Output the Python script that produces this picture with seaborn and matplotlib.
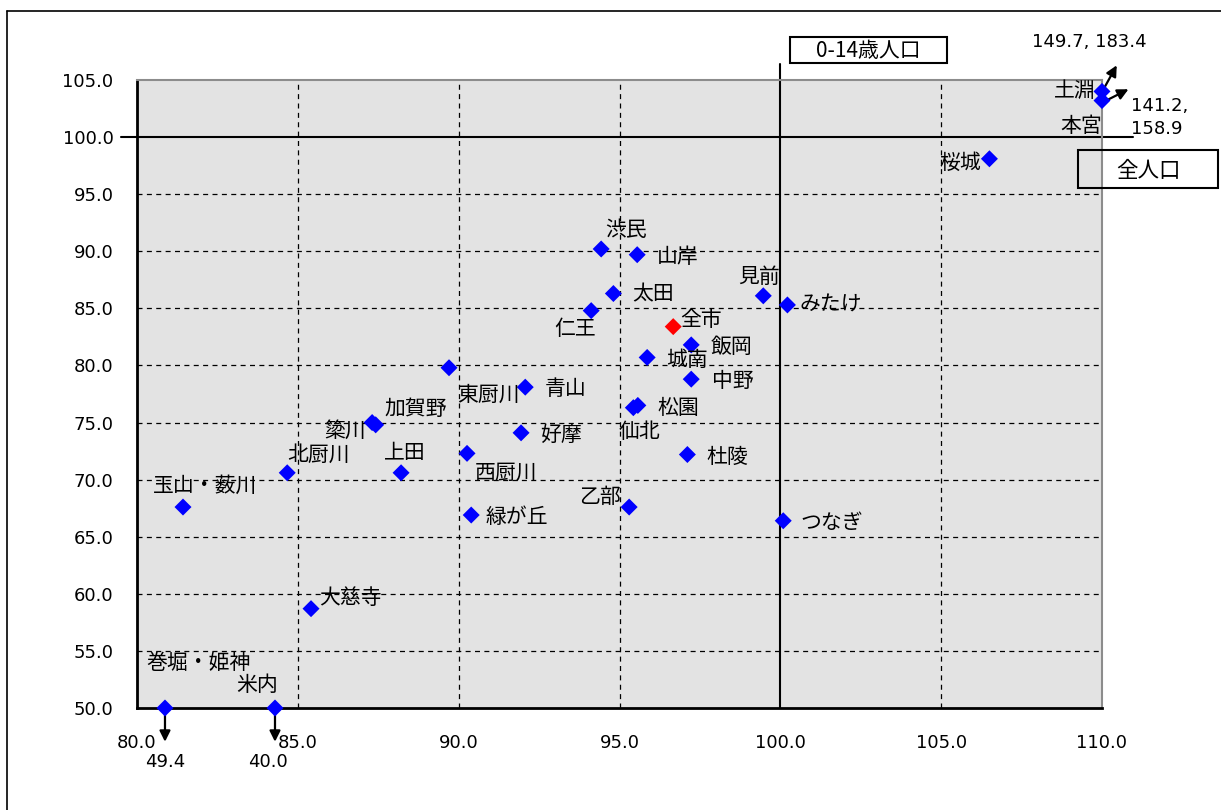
import numpy as np
import pandas as pd
import seaborn as sns
import matplotlib
import matplotlib.pyplot as plt
from matplotlib.patches import Rectangle
from matplotlib.lines import Line2D

matplotlib.use("Agg")

sns.set_style("white")
plt.rcParams["font.family"] = ["Noto Sans CJK JP", "DejaVu Sans"]
plt.rcParams["text.color"] = "black"
plt.rcParams["xtick.color"] = "black"
plt.rcParams["ytick.color"] = "black"

# 地区別の指数 (x: 全人口, y: 0-14歳人口), 表示位置
names = ["巻堀・姫神", "米内", "玉山・薮川", "北厨川", "大慈寺", "上田", "簗川", "加賀野",
         "東厨川", "青山", "好摩", "西厨川", "緑が丘", "乙部", "仙北", "松園", "杜陵",
         "つなぎ", "中野", "城南", "飯岡", "全市", "仁王", "太田", "渋民", "山岸",
         "見前", "みたけ", "桜城", "土淵", "本宮"]
x_vals = [80.87, 84.29, 81.43, 84.67, 85.41, 88.21, 87.31, 87.42,
          89.70, 92.07, 91.94, 90.26, 90.39, 95.30, 95.43, 95.57, 97.11,
          100.09, 97.23, 95.86, 97.23, 96.67, 94.12, 94.81, 94.43, 95.55,
          99.47, 100.22, 106.50, 110.0, 110.0]
y_vals = [50.0, 50.0, 67.6, 70.6, 58.7, 70.6, 75.0, 74.8,
          79.8, 78.1, 74.1, 72.3, 66.9, 67.6, 76.3, 76.5, 72.2,
          66.4, 78.8, 80.7, 81.8, 83.4, 84.8, 86.3, 90.2, 89.7,
          86.1, 85.3, 98.1, 104.0, 103.2]
groups = ["全市" if n == "全市" else "地区" for n in names]

# 範囲外の実際の値
overflow_names = ["土淵", "本宮", "巻堀・姫神", "米内"]
overflow_text = ["149.7, 183.4", "141.2,\n158.9", "49.4", "40.0"]

x_ticks = [80, 85, 90, 95, 100, 105, 110]
y_ticks = [50, 55, 60, 65, 70, 75, 80, 85, 90, 95, 100, 105]

# ラベル位置 (データ座標, 文字の中心)
label_pos = {
    "巻堀・姫神": (81.90, 53.9), "米内": (83.73, 52.0), "玉山・薮川": (82.12, 69.45),
    "北厨川": (85.63, 72.2), "大慈寺": (86.63, 59.6), "上田": (88.34, 72.3),
    "簗川": (86.47, 74.3), "加賀野": (88.68, 76.2), "東厨川": (90.92, 77.4),
    "青山": (93.31, 77.9), "好摩": (93.19, 73.9), "西厨川": (91.48, 70.6),
    "緑が丘": (91.82, 66.7), "乙部": (94.40, 68.5), "仙北": (95.61, 74.2),
    "松園": (96.83, 76.3), "杜陵": (98.35, 72.0), "つなぎ": (101.59, 66.2),
    "中野": (98.51, 78.6), "城南": (97.10, 80.5), "飯岡": (98.48, 81.6),
    "全市": (97.54, 84.0), "仁王": (93.62, 83.2), "太田": (96.05, 86.2),
    "渋民": (95.21, 91.9), "山岸": (96.80, 89.5), "見前": (99.35, 87.75),
    "みたけ": (101.56, 85.3), "桜城": (105.60, 97.7), "土淵": (109.15, 104.0),
    "本宮": (109.34, 101.0),
}

df = pd.DataFrame({"name": names, "x": x_vals, "y": y_vals, "group": groups})

W, H = 1221, 810
fig = plt.figure(figsize=(W / 100, H / 100), dpi=100)
ax = fig.add_axes([137 / W, 1 - 708 / H, (1102 - 137) / W, (708 - 80) / H])
ax.set_facecolor("#e3e3e3")

ax.set_xlim(80, 110)
ax.set_ylim(50, 105)

# grid
for gx in x_ticks[1:-1]:
    if gx != 100:
        ax.axvline(gx, color="black", lw=0.9, ls=(0, (4, 3.5)), zorder=1)
for gy in y_ticks[1:-1]:
    if gy != 100:
        ax.axhline(gy, color="black", lw=0.9, ls=(0, (4, 3.5)), zorder=1)

# 基準線 (100)
ax.plot([100, 100], [50, 106.4], color="black", lw=1.5, clip_on=False, zorder=2)
ax.plot([79.5, 110.96], [100, 100], color="black", lw=1.5, clip_on=False, zorder=2)

sns.scatterplot(data=df, x="x", y="y", hue="group", palette={"地区": "#0000ff", "全市": "#ff0000"},
                marker="D", s=75, edgecolor="none", legend=False, ax=ax, zorder=4, clip_on=False)

for n in names:
    lx, ly = label_pos[n]
    ax.text(lx, ly, n, fontsize=15, ha="center", va="center", zorder=5)

# 範囲外の矢印
arrow_kw = dict(arrowstyle="-|>", color="black", lw=1.6, mutation_scale=16)
idx = {n: i for i, n in enumerate(names)}
ax.annotate("", xy=(110.5, 106.5), xytext=(x_vals[idx["土淵"]] - 0.05, y_vals[idx["土淵"]] - 0.3),
            arrowprops=arrow_kw, annotation_clip=False)
ax.annotate("", xy=(110.9, 104.3), xytext=(x_vals[idx["本宮"]] - 0.15, y_vals[idx["本宮"]] - 0.4),
            arrowprops=arrow_kw, annotation_clip=False)
for n in ["巻堀・姫神", "米内"]:
    ax.annotate("", xy=(x_vals[idx[n]], 46.8), xytext=(x_vals[idx[n]], y_vals[idx[n]]),
                arrowprops=arrow_kw, annotation_clip=False)

ax.text(109.6, 108.3, overflow_text[0], fontsize=13, ha="center", va="center",
        family="DejaVu Sans")
ax.text(110.9, 101.7, overflow_text[1], fontsize=13, ha="left", va="center",
        family="DejaVu Sans", linespacing=1.4)
ax.text(x_vals[idx["巻堀・姫神"]], 45.3, overflow_text[2], fontsize=13, ha="center",
        va="center", family="DejaVu Sans")
ax.text(84.07, 45.3, overflow_text[3], fontsize=13, ha="center", va="center",
        family="DejaVu Sans")

# axes
ax.set_xticks(x_ticks)
ax.set_yticks(y_ticks)
ax.set_xticklabels([f"{v:.1f}" for v in x_ticks], family="DejaVu Sans", fontsize=13)
ax.set_yticklabels([f"{v:.1f}" for v in y_ticks], family="DejaVu Sans", fontsize=13)
ax.tick_params(axis="y", length=5, width=1.5, direction="out", pad=12, color="black")
ax.tick_params(axis="x", length=0, pad=19)
ax.set_xlabel("")
ax.set_ylabel("")
for side in ["left", "bottom"]:
    ax.spines[side].set_color("black")
    ax.spines[side].set_linewidth(2)
for side in ["top", "right"]:
    ax.spines[side].set_color("#8c8c8c")
    ax.spines[side].set_linewidth(1.5)

# 軸の名前の枠
fig.add_artist(Rectangle((790 / W, 1 - 63 / H), 157 / W, 26 / H, transform=fig.transFigure,
                         fill=False, lw=1.5, ec="black"))
fig.text(868 / W, 1 - 51 / H, "0-14歳人口", fontsize=15, ha="center", va="center")
fig.add_artist(Rectangle((1078 / W, 1 - 188 / H), 140 / W, 38 / H, transform=fig.transFigure,
                         fill=False, lw=1.5, ec="black"))
fig.text(1148 / W, 1 - 171 / H, "全人口", fontsize=15.5, ha="center", va="center")

# 外枠
fig.add_artist(Line2D([7 / W, 1], [1 - 11 / H, 1 - 11 / H], transform=fig.transFigure,
                      color="black", lw=1.2))
fig.add_artist(Line2D([7 / W, 7 / W], [0, 1 - 11 / H], transform=fig.transFigure,
                      color="black", lw=1.2))

fig.savefig("out.png", dpi=100)
